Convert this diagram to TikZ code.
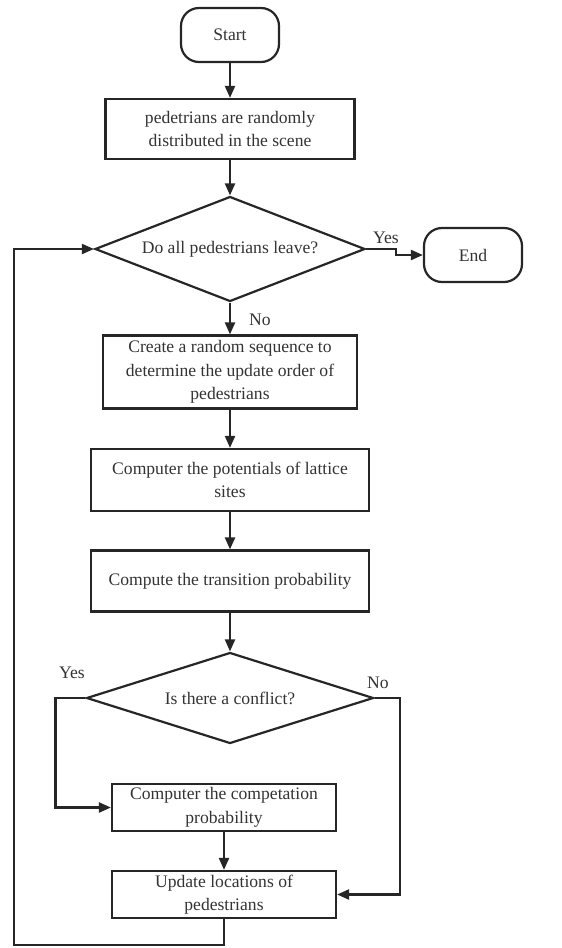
\documentclass[tikz,border=0pt]{standalone}
\usepackage{fontspec}
\setmainfont{Liberation Serif}
\usetikzlibrary{shapes.geometric,arrows.meta}
\begin{document}
\begin{tikzpicture}[x=1pt,y=-1pt,
  every node/.style={font=\fontsize{17.6}{23.5}\selectfont, text=black!80},
  line/.style={draw=black!85, line width=2.2pt},
  arr/.style={line, -{Triangle[length=12pt,width=10pt]}},
  term/.style={line, rounded corners=18pt, minimum width=98pt, minimum height=54pt, inner sep=0pt},
  proc/.style={line, align=center, inner sep=0pt},
  dec/.style={line, diamond, inner sep=0pt, align=center},
  lbl/.style={inner sep=0pt}
]
\useasboundingbox (0,0) rectangle (562,948);
\node[term] (start) at (230,35) {Start};
\node[proc, minimum width=249pt, minimum height=60pt] (b1) at (230,129) {pedetrians are randomly\\distributed in the scene};
\node[dec, aspect=2.57, minimum width=270pt, minimum height=105pt] (d1) at (230,249) {Do all pedestrians leave?};
\node[term] (end) at (473,255) {End};
\node[proc, minimum width=254pt, minimum height=73pt] (b2) at (230,372) {Create a random sequence to\\determine the update order of\\pedestrians};
\node[proc, minimum width=278pt, minimum height=62pt] (b3) at (230,480) {Computer the potentials of lattice\\sites};
\node[proc, minimum width=278pt, minimum height=61pt] (b4) at (230,581) {Compute the transition probability};
\node[dec, aspect=3.15, minimum width=287pt, minimum height=91pt] (d2) at (230,698) {Is there a conflict?};
\node[proc, minimum width=224pt, minimum height=47pt] (b5) at (224,807.5) {Computer the competation\\probability};
\node[proc, minimum width=224pt, minimum height=47pt] (b6) at (224,894.5) {Update locations of\\pedestrians};
\coordinate (bl) at (14,945);

\node[lbl] (yes1) at (386,238) {Yes};
\node[lbl] (no1) at (260,320) {No};
\node[lbl] (yes2) at (72,673) {Yes};
\node[lbl] (no2) at (378,683) {No};

\draw[arr] (start) -- (b1);
\draw[arr] (b1) -- (d1);
\draw[arr] (d1.east) -- ++(30,0) |- (end.west);
\draw[arr] (d1) -- (b2);
\draw[arr] (b2) -- (b3);
\draw[arr] (b3) -- (b4);
\draw[arr] (b4) -- (d2);
\draw[arr] (d2.west) -- ++(-30,0) |- (b5.west);
\draw[arr] (d2.east) -- ++(25,0) |- (b6.east);
\draw[arr] (b5) -- (b6);
\draw[arr] (b6.south) |- (bl) |- (d1.west);
\end{tikzpicture}
\end{document}
